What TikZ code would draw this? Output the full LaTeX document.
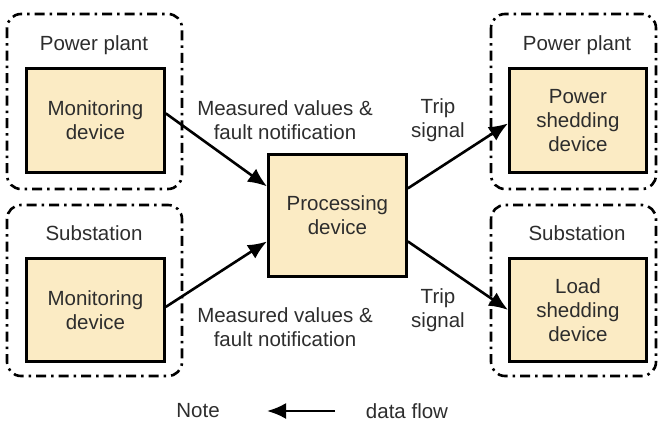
\documentclass[tikz,border=0pt]{standalone}
\usepackage{fontspec}
\setmainfont{Liberation Sans}
\usetikzlibrary{arrows.meta}
\definecolor{boxfill}{RGB}{251,235,196}
\definecolor{inkgray}{RGB}{45,45,45}
\begin{document}
\begin{tikzpicture}[x=1pt,y=-1pt,
  font=\fontsize{20.5}{24}\selectfont,
  txt/.style={text=inkgray,align=center,inner sep=0pt},
  site/.style={draw=black,line width=2.6pt,rounded corners=14pt,
    dash pattern=on 10pt off 5pt on 2.5pt off 5pt},
  devbox/.style={draw=black,line width=2.8pt,fill=boxfill,text=inkgray,
    align=center,inner sep=0pt,anchor=north west},
  flow/.style={draw=black,line width=2.6pt,-{Latex[length=19pt,width=16pt]}}]
\useasboundingbox (0,0) rectangle (660,423);

% dash-dotted site frames
\draw[site] (7,14) rectangle (182,189);
\draw[site] (7,205) rectangle (182,376);
\draw[site] (491,14) rectangle (656,189);
\draw[site] (491,205) rectangle (656,376);

% site titles
\node[txt] (t1) at (94,45) {Power plant};
\node[txt] (t2) at (94,233) {Substation};
\node[txt] (t3) at (577,45) {Power plant};
\node[txt] (t4) at (577,233) {Substation};

% devices
\node[devbox,minimum width=138pt,minimum height=104pt] (mon1) at (25,67) {Monitoring\\device};
\node[devbox,minimum width=138pt,minimum height=103pt] (mon2) at (25,257) {Monitoring\\device};
\node[devbox,minimum width=138pt,minimum height=122pt] (proc) at (267,153) {Processing\\device};
\node[devbox,minimum width=137pt,minimum height=104pt] (psd) at (508,67) {Power\\shedding\\device};
\node[devbox,minimum width=137pt,minimum height=103pt] (lsd) at (508,257) {Load\\shedding\\device};

% data flows
\draw[flow] ([yshift=7pt]mon1.east) -- ([yshift=29pt]proc.west);
\draw[flow] ([yshift=3pt]mon2.east) -- ([yshift=-26pt]proc.west);
\draw[flow] ([yshift=27pt]proc.east) -- ([yshift=-3pt]psd.west);
\draw[flow] ([yshift=-26pt]proc.east) -- (lsd.west);

% flow labels
\node[txt] (m1) at (285,120) {Measured values \&\\fault notification};
\node[txt] (m2) at (285,327) {Measured values \&\\fault notification};
\node[txt] (s1) at (438,120) {Trip\\signal};
\node[txt] (s2) at (438,310) {Trip\\signal};

% legend
\node[txt] (note) at (198,411) {Note};
\coordinate (lgA) at (335,411);
\coordinate (lgB) at (267,411);
\draw[flow] (lgA) -- (lgB);
\node[txt] (df) at (407,411) {data flow};
\end{tikzpicture}
\end{document}
